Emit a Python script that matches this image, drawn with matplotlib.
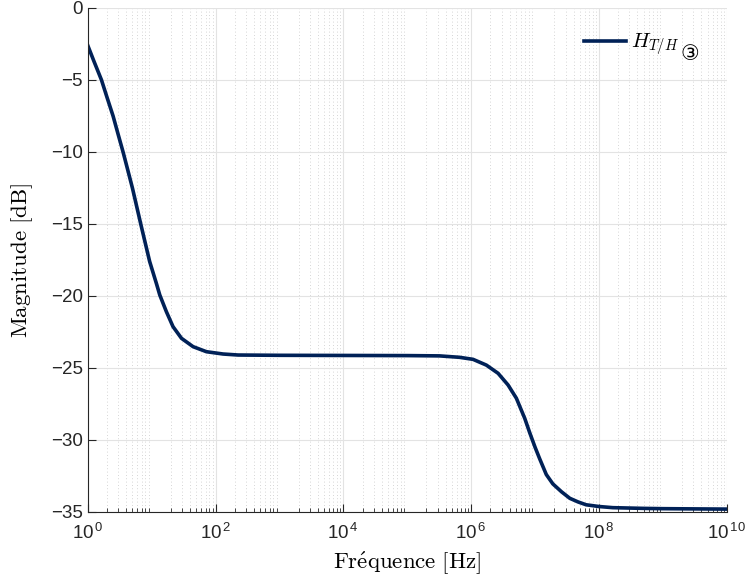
import numpy as np
import matplotlib.pyplot as plt
from matplotlib.ticker import LogLocator, NullFormatter

plt.rcParams['font.family'] = ['Liberation Sans', 'DejaVu Sans']
plt.rcParams['mathtext.fontset'] = 'cm'

# Values
freq = [1, 1.25, 1.64, 2, 2.49, 3, 3.57, 4.2, 5.0, 6.75, 9.3, 11.9, 13.4, 17,
        21.6, 29.3, 44.5, 72, 131, 225, 1e3, 1e4, 1e5, 3.2e5, 6.6e5, 1.07e6,
        1.73e6, 2.64e6, 3.78e6, 5.1e6, 6.9e6, 8.26e6, 1e7, 1.18e7, 1.5e7,
        1.9e7, 2.6e7, 3.5e7, 4.7e7, 6.3e7, 1e8, 1.65e8, 5e8, 1e9, 1e10]
mag_db = [-2.6, -3.7, -5.0, -6.2, -7.5, -8.8, -10.0, -11.2, -12.5, -15.0,
          -17.6, -19.15, -19.93, -21.09, -22.13, -22.94, -23.52, -23.87,
          -24.03, -24.1, -24.12, -24.13, -24.14, -24.16, -24.26, -24.4,
          -24.8, -25.37, -26.18, -27.1, -28.5, -29.5, -30.5, -31.3, -32.4,
          -33.05, -33.6, -34.05, -34.3, -34.5, -34.62, -34.7, -34.75,
          -34.77, -34.8]

fig = plt.figure(figsize=(7.5, 5.82), dpi=100)
ax = fig.add_axes([0.117, 0.1203, 0.852, 0.866])

ax.semilogx(freq, mag_db, color='#002157', lw=2.6, label=r'$H_{T/H}$')

ax.set_xlim(1, 1e10)
ax.set_ylim(-35, 0)
ax.set_xticks([1, 1e2, 1e4, 1e6, 1e8, 1e10])
ax.set_xticklabels([r'$\mathdefault{10^{\,%d}}$' % k for k in [0, 2, 4, 6, 8, 10]])
ax.xaxis.set_minor_locator(LogLocator(base=10, subs=np.arange(2, 10), numticks=100))
ax.xaxis.set_minor_formatter(NullFormatter())
ax.set_yticks(np.arange(-35, 1, 5))

ax.grid(True, which='major', color='#e3e3e3', lw=0.8)
ax.grid(True, which='minor', axis='x', color='#c8c8c8', lw=0.6, ls=(0, (1, 3)))
ax.set_axisbelow(True)

ax.spines['top'].set_visible(False)
ax.spines['right'].set_visible(False)
for s in ['left', 'bottom']:
    ax.spines[s].set_color('#262626')
ax.tick_params(which='both', direction='in', colors='#262626', labelsize=13.5)
ax.tick_params(which='major', length=6)
ax.tick_params(which='minor', length=3)
ax.tick_params(axis='x', pad=8)

ax.set_xlabel(r'$\mathrm{Fr\'equence\ [Hz]}$', fontsize=16.5, va='center')
ax.set_ylabel(r'$\mathrm{Magnitude\ [dB]}$', fontsize=16.5, va='center')
ax.xaxis.set_label_coords(0.5, -0.101)
ax.yaxis.set_label_coords(-0.103, 0.5)

leg = ax.legend(loc='upper right', frameon=False, fontsize=15, handlelength=2.0,
                handletextpad=0.25, bbox_to_anchor=(0.955, 0.99))

# circled subscript after the legend text
fig.canvas.draw()
bb = leg.get_texts()[0].get_window_extent()
W, H = fig.canvas.get_width_height()
fig.text((bb.x1 + 1) / W, (bb.y0 - 6) / H, '③', fontsize=15,
         family='DejaVu Sans', ha='left', va='bottom', color='k')

fig.savefig('out.png', dpi=100)
